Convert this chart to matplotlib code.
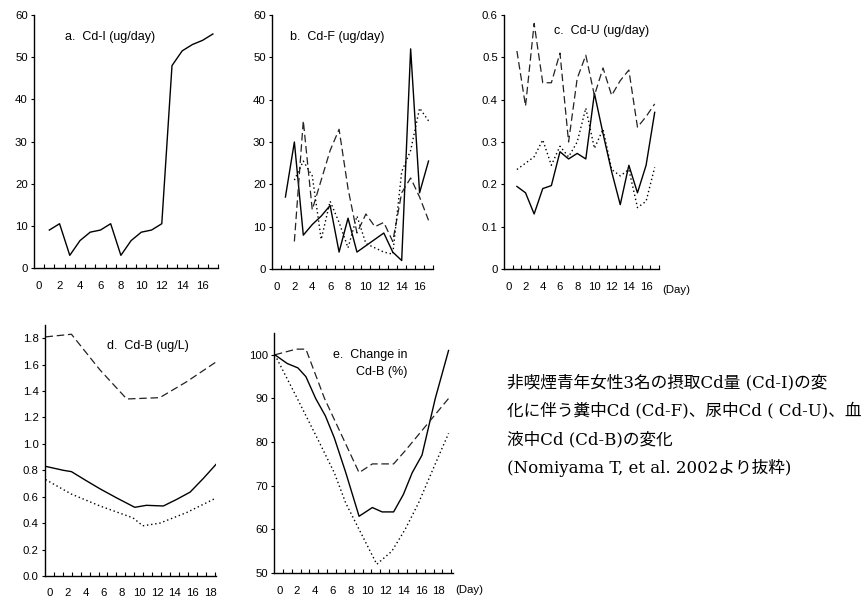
import numpy as np
import matplotlib
matplotlib.use('Agg')
import matplotlib.pyplot as plt

plt.rcParams['font.family'] = ['Liberation Sans', 'DejaVu Sans']

# a. intake
days_a = list(range(1, 18))
cd_i = [9, 10.5, 3, 6.5, 8.5, 9, 10.5, 3, 6.5, 8.5, 9, 10.5, 48, 51.5, 53, 54, 55.5]

# b. feces (three subjects)
days_b1 = list(range(1, 18))
cd_f_solid = [17, 30, 8, 10.5, 12.5, 15, 4, 12, 4, 5.5, 7, 8.5, 4, 2, 52, 18, 25.5]
days_b2 = list(range(2, 18))
cd_f_dash = [6.5, 35, 14, 21, 28, 33, 19, 8.5, 13, 10, 11, 6.5, 18, 21.5, 17, 11.5]
cd_f_dot = [21, 25.5, 22, 7, 16, 11, 5, 12.5, 6, 5, 4, 3.5, 23, 28, 38, 35]

# c. urine
days_c = list(range(1, 18))
cd_u_solid = [0.195, 0.18, 0.13, 0.19, 0.197, 0.277, 0.26, 0.273, 0.26, 0.415,
              0.32, 0.23, 0.152, 0.245, 0.18, 0.245, 0.37]
cd_u_dash = [0.515, 0.385, 0.58, 0.44, 0.44, 0.51, 0.30, 0.45, 0.505, 0.41,
             0.475, 0.41, 0.445, 0.47, 0.335, 0.36, 0.39]
cd_u_dot = [0.235, 0.25, 0.265, 0.305, 0.245, 0.29, 0.265, 0.30, 0.38, 0.285,
            0.33, 0.235, 0.22, 0.235, 0.145, 0.16, 0.24]

# d. blood
days_d_solid = [-0.5, 1.5, 2.4, 4.1, 5.6, 7.5, 9.5, 10.8, 12.7, 14.2, 15.7, 17.2, 18.6]
cd_b_solid = [0.83, 0.80, 0.79, 0.72, 0.66, 0.59, 0.52, 0.535, 0.53, 0.58, 0.635, 0.74, 0.845]
days_d_dash = [-0.5, 2.4, 5.6, 8.6, 12.3, 15.3, 18.6]
cd_b_dash = [1.81, 1.83, 1.56, 1.34, 1.35, 1.47, 1.62]
days_d_dot = [-0.5, 2.4, 5.6, 9.3, 10.4, 12.3, 15.3, 18.6]
cd_b_dot = [0.73, 0.62, 0.53, 0.44, 0.38, 0.40, 0.48, 0.59]

# e. change in blood Cd (%)
days_e_solid = [-0.5, 0.9, 2.1, 3.0, 4.1, 5.2, 6.2, 7.5, 9.0, 10.5, 11.6, 12.9, 14.0, 15.0, 16.1, 17.6, 19.1]
chg_solid = [100, 98, 97, 95, 90, 86, 81, 73, 63, 65, 64, 64, 68, 73, 77, 90, 101]
days_e_dash = [-0.5, 1.9, 3.0, 5.1, 9.0, 10.5, 12.9, 14.2, 19.1]
chg_dash = [100, 101.3, 101.3, 90, 73, 75, 75, 78, 90]
days_e_dot = [-0.5, 1.9, 4.5, 6.2, 7.5, 9.0, 11.0, 12.7, 14.2, 15.7, 17.6, 19.1]
chg_dot = [100, 90.5, 80, 73, 66, 60, 52, 55, 60, 66, 75, 82]

W, H = 865, 601
fig = plt.figure(figsize=(W / 100, H / 100), dpi=100)

LAB = 8.2   # tick label size
TIT = 9.0   # panel title size


def make_ax(left, top, right, bottom):
    return fig.add_axes([left / W, 1 - bottom / H, (right - left) / W, (bottom - top) / H])


def style(ax, xlim, ylim, yticks, yfmt, xlabels_max, minor):
    ax.set_xlim(*xlim)
    ax.set_ylim(*ylim)
    for s in ['top', 'right']:
        ax.spines[s].set_visible(False)
    for s in ['left', 'bottom']:
        ax.spines[s].set_linewidth(1.0)
    ax.set_yticks(yticks)
    ax.set_yticklabels([yfmt(v) for v in yticks])
    ax.set_xticks(np.arange(0, xlabels_max + 1, 2))
    ax.set_xticks(minor, minor=True)
    ax.tick_params(axis='y', direction='out', length=2.5, width=0.8, pad=2, labelsize=LAB)
    ax.tick_params(axis='x', which='major', length=0, pad=9, labelsize=LAB)
    ax.tick_params(axis='x', which='minor', direction='in', length=3, width=0.8)


solid = dict(color='black', lw=1.0)
dash = dict(color='#222222', lw=0.9, ls=(0, (6, 3)))
dot = dict(color='black', lw=1.0, ls=(0, (1, 2)))

# a
ax = make_ax(34, 15, 218, 268)
ax.plot(days_a, cd_i, **solid)
style(ax, (-0.5, 17.5), (0, 60), range(0, 61, 10), lambda v: f'{v}', 16, np.arange(0.5, 17.6, 1))
ax.text(0.17, 0.913, 'a.  Cd-I (ug/day)', transform=ax.transAxes, fontsize=TIT, va='center')

# b
ax = make_ax(272, 15, 433, 269)
ax.plot(days_b1, cd_f_solid, **solid)
ax.plot(days_b2, cd_f_dash, **dash)
ax.plot(days_b2, cd_f_dot, **dot)
style(ax, (-0.5, 17.5), (0, 60), range(0, 61, 10), lambda v: f'{v}', 16, np.arange(0.5, 17.6, 1))
ax.text(0.11, 0.913, 'b.  Cd-F (ug/day)', transform=ax.transAxes, fontsize=TIT, va='center')

# c
ax = make_ax(504, 15, 659, 269)
ax.plot(days_c, cd_u_solid, **solid)
ax.plot(days_c, cd_u_dash, **dash)
ax.plot(days_c, cd_u_dot, **dot)
style(ax, (-0.5, 17.5), (0, 0.6), [0, 0.1, 0.2, 0.3, 0.4, 0.5, 0.6],
      lambda v: '0' if v == 0 else f'{v:.1f}', 16, np.arange(0.5, 17.6, 1))
ax.text(0.32, 0.937, 'c.  Cd-U (ug/day)', transform=ax.transAxes, fontsize=TIT, va='center')
ax.text(1.02, -0.083, '(Day)', transform=ax.transAxes, fontsize=LAB, va='center')

# d
ax = make_ax(45, 325, 216, 576)
ax.plot(days_d_solid, cd_b_solid, **solid)
ax.plot(days_d_dash, cd_b_dash, **dash)
ax.plot(days_d_dot, cd_b_dot, **dot)
style(ax, (-0.56, 18.6), (0, 1.9), np.round(np.arange(0, 1.81, 0.2), 1),
      lambda v: f'{v:.1f}', 18, np.arange(0.44, 18.7, 1))
ax.text(0.36, 0.916, 'd.  Cd-B (ug/L)', transform=ax.transAxes, fontsize=TIT, va='center')

# e
ax = make_ax(274, 333, 453, 573)
ax.plot(days_e_solid, chg_solid, **solid)
ax.plot(days_e_dash, chg_dash, **dash)
ax.plot(days_e_dot, chg_dot, **dot)
style(ax, (-0.6, 19.6), (50, 105), range(50, 101, 10), lambda v: f'{v}', 18, np.arange(0.4, 19.7, 1))
ax.text(0.33, 0.908, 'e.  Change in', transform=ax.transAxes, fontsize=TIT, va='center')
ax.text(0.46, 0.8375, 'Cd-B (%)', transform=ax.transAxes, fontsize=TIT, va='center')
ax.text(1.01, -0.071, '(Day)', transform=ax.transAxes, fontsize=LAB, va='center')

# caption
caption = [
    '非喫煙青年女性3名の摂取Cd量 (Cd-I)の変',
    '化に伴う糞中Cd (Cd-F)、尿中Cd ( Cd-U)、血',
    '液中Cd (Cd-B)の変化',
    '(Nomiyama T, et al. 2002より抜粋)',
]
for i, line in enumerate(caption):
    fig.text(507 / W, 1 - (383 + 28.2 * i) / H, line, fontsize=12, va='center',
             family=['DejaVu Serif', 'Noto Sans CJK JP'])

fig.savefig('out.png', dpi=100)
